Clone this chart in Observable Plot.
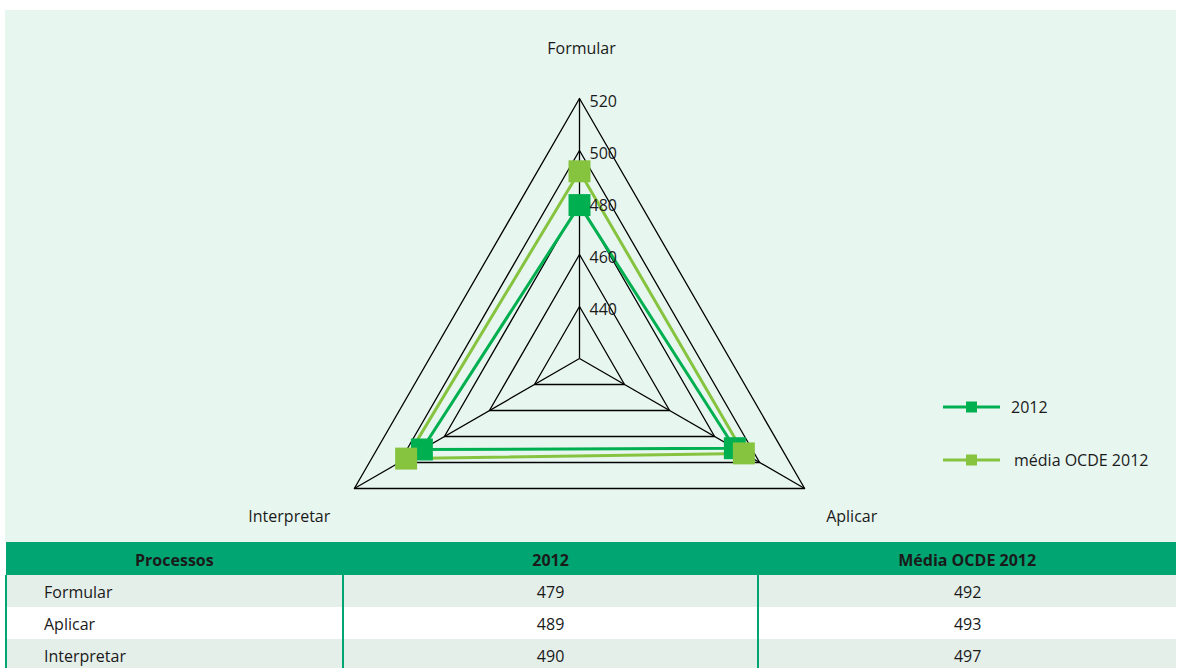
<!DOCTYPE html>
<html>
<head>
<meta charset="utf-8">
<script src="https://cdn.jsdelivr.net/npm/d3@7"></script>
<script src="https://cdn.jsdelivr.net/npm/@observablehq/plot@0.6"></script>
<style>
  html, body { margin: 0; padding: 0; background: #ffffff; overflow: hidden; }
  body { width: 1181px; height: 668px; position: relative; font-family: "Open Sans", "Noto Sans", sans-serif; }
  #chart { position: absolute; left: 5px; top: 10px; width: 1171px; height: 532px; background: #e8f6f0; }
  #legend { position: absolute; left: 938px; top: 390px; font-size: 16px; color: #1a1a1a; }
  .lg { position: absolute; display: flex; align-items: center; white-space: nowrap; }
  #tbl { position: absolute; left: 5px; top: 542px; width: 1171px; border-collapse: collapse; font-size: 16px; color: #1a1a1a; }
  #tbl th { background: #00a572; height: 30px; padding: 3px 0 0 0; font-weight: 700; text-align: center; }
  #tbl td { height: 30px; padding: 2px 0 0 0; text-align: center; border-left: 2px solid #00a572; }
  #tbl td:first-child { text-align: left; padding-left: 37px; }
  #tbl tr.odd td { background: #e5efea; }
  #tbl tr.even td { background: #ffffff; }
</style>
</head>
<body>
<div id="chart"></div>
<div id="legend"></div>
<table id="tbl"></table>
<script>
// ---- data ----
const categories = ["Formular", "Aplicar", "Interpretar"];
const values2012 = [479, 489, 490];
const valuesOCDE = [492, 493, 497];
const seriesNames = ["2012", "média OCDE 2012"];
const seriesColors = ["#00b050", "#86c440"];
const ringTicks = [440, 460, 480, 500, 520];
const scaleMin = 420;
const tableHeader = ["Processos", "2012", "Média OCDE 2012"];

// ---- geometry helpers ----
const W = 1171, H = 532;
const pxPerUnit = 2.6;
const cx = 574, cy = 348;
const angleOf = i => (i * 2 * Math.PI) / categories.length; // clockwise from top
const pt = (v, i) => {
  const r = v - scaleMin;
  return { x: r * Math.sin(angleOf(i)), y: r * Math.cos(angleOf(i)) };
};

const ringData = [];
for (const t of ringTicks) {
  for (let k = 0; k <= categories.length; k++) {
    const i = k % categories.length;
    ringData.push({ tick: t, ...pt(t, i) });
  }
}
const outer = ringTicks[ringTicks.length - 1];
const spokeData = categories.map((c, i) => ({ cat: c, x1: pt(scaleMin, i).x, y1: pt(scaleMin, i).y, x2: pt(outer, i).x, y2: pt(outer, i).y }));
const seriesValues = [values2012, valuesOCDE];
const lineData = [];
const dotData = [];
seriesValues.forEach((vals, s) => {
  for (let k = 0; k <= categories.length; k++) {
    const i = k % categories.length;
    lineData.push({ series: seriesNames[s], ...pt(vals[i], i) });
  }
  vals.forEach((v, i) => dotData.push({ series: seriesNames[s], cat: categories[i], value: v, ...pt(v, i) }));
});
const tickLabelData = ringTicks.map(t => ({ label: String(t), ...pt(t, 0) }));
const labelR = outer + 20;
const catLabelData = categories.map((c, i) => ({ cat: c, ...pt(labelR, i) }));

const xDomain = [-cx / pxPerUnit, (W - cx) / pxPerUnit];
const yDomain = [-(H - cy) / pxPerUnit, cy / pxPerUnit];

const plot = Plot.plot({
  width: W,
  height: H,
  margin: 0,
  style: { background: "transparent", fontFamily: "'Open Sans', 'Noto Sans', sans-serif", fontSize: "16px", color: "#1a1a1a" },
  x: { domain: xDomain, axis: null },
  y: { domain: yDomain, axis: null },
  color: { domain: seriesNames, range: seriesColors },
  marks: [
    Plot.line(ringData, { x: "x", y: "y", z: "tick", stroke: "#000", strokeWidth: 1.3 }),
    Plot.link(spokeData, { x1: "x1", y1: "y1", x2: "x2", y2: "y2", stroke: "#000", strokeWidth: 1.3 }),
    Plot.line(lineData, { x: "x", y: "y", z: "series", stroke: "series", strokeWidth: 3 }),
    Plot.dot(dotData, { x: "x", y: "y", fill: "series", symbol: "square", r: 12.4, stroke: null }),
    Plot.text(tickLabelData, { x: "x", y: "y", text: "label", textAnchor: "start", dx: 10, dy: 3, fill: "#1a1a1a", fontSize: 16 }),
    Plot.text(catLabelData.filter(d => d.cat !== "Interpretar"), { x: "x", y: "y", text: "cat", fill: "#1a1a1a", dx: 2, dy: 2, fontSize: 16 }),
    Plot.text(catLabelData.filter(d => d.cat === "Interpretar"), { x: "x", y: "y", text: "cat", fill: "#1a1a1a", dx: -20, dy: 2, fontSize: 16 })
  ]
});
document.getElementById("chart").appendChild(plot);

// ---- legend ----
const legend = document.getElementById("legend");
seriesNames.forEach((name, s) => {
  const row = document.createElement("div");
  row.className = "lg";
  row.style.top = (s * 53) + "px";
  row.style.left = "5px";
  row.innerHTML = `<svg width="58" height="34"><line x1="0" x2="57" y1="17" y2="17" stroke="${seriesColors[s]}" stroke-width="3"/><rect x="23" y="11.5" width="11" height="11" fill="${seriesColors[s]}"/></svg><span style="margin-left:${s === 0 ? 10 : 13}px">${name}</span>`;
  legend.appendChild(row);
});

// ---- table ----
const tbl = document.getElementById("tbl");
const colgroup = `<colgroup><col style="width:337px"><col style="width:416px"><col style="width:418px"></colgroup>`;
let html = colgroup + "<tr>" + tableHeader.map(h => `<th>${h}</th>`).join("") + "</tr>";
categories.forEach((c, i) => {
  html += `<tr class="${i % 2 === 0 ? "odd" : "even"}"><td>${c}</td><td>${values2012[i]}</td><td>${valuesOCDE[i]}</td></tr>`;
});
tbl.innerHTML = html;
</script>
</body>
</html>
